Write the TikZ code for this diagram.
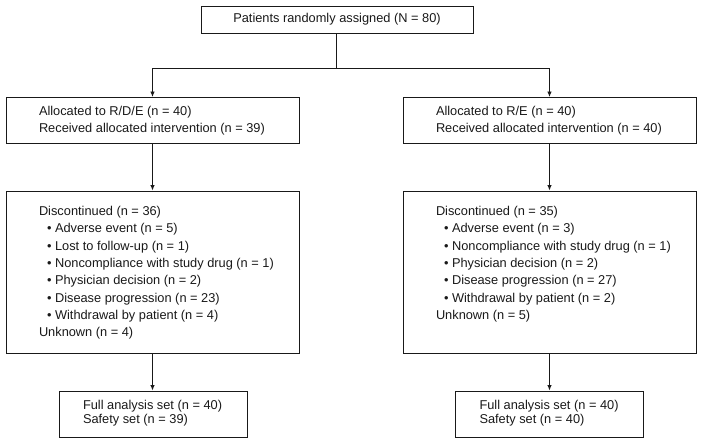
\documentclass[tikz,border=0pt]{standalone}
\usepackage{fontspec}
\setmainfont{Liberation Sans}
\usetikzlibrary{arrows.meta,calc}
\newcommand{\lines}[3]{\makebox[#1][l]{\fontsize{12.8pt}{#2}\selectfont\begin{tabular}{@{}l@{}}#3\end{tabular}}}
\newcommand{\biglines}[1]{\parbox[c][137pt][t]{227pt}{\fontsize{12.8pt}{17.3pt}\selectfont\begin{tabular}[t]{@{}l@{}}#1\end{tabular}}}
\newcommand{\bul}{\hspace*{8pt}•\ }
\begin{document}
\begin{tikzpicture}[x=1pt,y=-1pt,
  box/.style={draw=black!90, line width=0.9pt, rectangle, inner ysep=0pt, text=black!90,
    font=\fontsize{12.8pt}{17.3pt}\selectfont},
  arr/.style={draw=black!90, line width=0.9pt, -{Latex[length=5.5pt,width=4.5pt]}},
  ln/.style={draw=black!90, line width=0.9pt}]
\useasboundingbox (0,0) rectangle (701,443);

% top box
\node[box, minimum width=272pt, minimum height=27pt, inner xsep=0pt] (top) at (337,19.5)
  {Patients randomly assigned (N = 80)};

% allocation boxes
\node[box, inner xsep=33pt, minimum height=46pt] (aL) at (152.5,120.5)
  {\lines{227pt}{16.5pt}{Allocated to R/D/E (n = 40)\\Received allocated intervention (n = 39)}};
\node[box, inner xsep=33pt, minimum height=46pt] (aR) at (549.5,120.5)
  {\lines{227pt}{16.5pt}{Allocated to R/E (n = 40)\\Received allocated intervention (n = 40)}};

% discontinued boxes
\node[box, inner xsep=33pt, inner ysep=12.5pt] (dL) at (152.5,272)
  {\biglines{Discontinued (n = 36)\\
  \bul Adverse event (n = 5)\\
  \bul Lost to follow-up (n = 1)\\
  \bul Noncompliance with study drug (n = 1)\\
  \bul Physician decision (n = 2)\\
  \bul Disease progression (n = 23)\\
  \bul Withdrawal by patient (n = 4)\\
  Unknown (n = 4)}};
\node[box, inner xsep=33pt, inner ysep=12.5pt] (dR) at (549.5,272)
  {\biglines{Discontinued (n = 35)\\
  \bul Adverse event (n = 3)\\
  \bul Noncompliance with study drug (n = 1)\\
  \bul Physician decision (n = 2)\\
  \bul Disease progression (n = 27)\\
  \bul Withdrawal by patient (n = 2)\\
  Unknown (n = 5)}};

% analysis boxes
\node[box, inner xsep=24pt, minimum height=46pt] (fL) at (153,414)
  {\lines{140pt}{14pt}{Full analysis set (n = 40)\\Safety set (n = 39)}};
\node[box, inner xsep=24pt, minimum height=46pt] (fR) at (549.5,414)
  {\lines{140pt}{14pt}{Full analysis set (n = 40)\\Safety set (n = 40)}};

% connectors
\coordinate (split) at (336,68);
\draw[ln] (top.south -| split) -- (split);
\draw[arr] (split) -| (aL.north);
\draw[arr] (split) -| (aR.north);
\draw[arr] (aL) -- (dL);
\draw[arr] (aR) -- (dR);
\draw[arr] (dL) -- (fL.north -| dL.south);
\draw[arr] (dR) -- (fR);
\end{tikzpicture}
\end{document}
